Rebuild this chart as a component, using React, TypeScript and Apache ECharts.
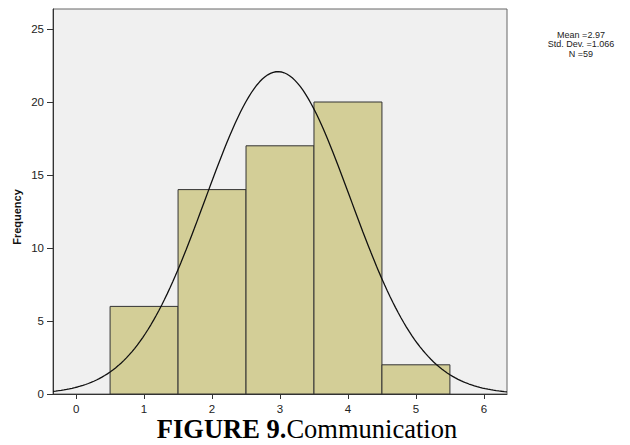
import React, { useEffect, useRef } from "react";
import * as echarts from "echarts";

// Histogram of Communication scores (bin width 1)
const binCenters = [1, 2, 3, 4, 5];
const frequencies = [6, 14, 17, 20, 2];

// Summary statistics reported beside the plot
const statMean = 2.97;
const statStdDev = 1.066;
const statN = 59;

const xTicks = [0, 1, 2, 3, 4, 5, 6];
const yTicks = [0, 5, 10, 15, 20, 25];

const xMin = -0.34;
const xMax = 6.34;
const binWidth = 1;

// Normal curve scaled to counts: N * binWidth * pdf(x)
const curveX: number[] = [];
for (let x = xMin; x <= xMax + 1e-9; x += 0.04) curveX.push(+x.toFixed(3));
const curvePoints = curveX.map((x) => {
  const z = (x - statMean) / statStdDev;
  const y = (statN * binWidth * Math.exp(-0.5 * z * z)) / (statStdDev * Math.sqrt(2 * Math.PI));
  return [x, y];
});

const statLines = [`Mean =${statMean}`, `Std. Dev. =${statStdDev}`, `N =${statN}`];

export default function App() {
  const ref = useRef<HTMLDivElement>(null);

  useEffect(() => {
    if (!ref.current) return;
    const chart = echarts.init(ref.current, null, { renderer: "svg" });
    const sans = "Liberation Sans, Arial, sans-serif";
    const serif = "Liberation Serif, Times New Roman, serif";
    const axisFont = { fontFamily: sans, fontSize: 11.5, color: "#222" };

    chart.setOption({
      animation: false,
      backgroundColor: "#ffffff",
      grid: {
        left: 53,
        right: 123,
        top: 9,
        bottom: 51,
        show: true,
        backgroundColor: "#f0f0f0",
        borderColor: "#666",
        borderWidth: 1,
      },
      xAxis: {
        type: "value",
        min: xMin,
        max: xMax,
        axisLine: { show: true, onZero: false, lineStyle: { color: "#333", width: 1 } },
        axisTick: { show: true, length: 5, customValues: xTicks, lineStyle: { color: "#333" } },
        axisLabel: { ...axisFont, margin: 9, lineHeight: 11, customValues: xTicks },
        splitLine: { show: false },
      },
      yAxis: {
        type: "value",
        min: 0,
        max: 26.37,
        axisLine: { show: true, onZero: false, lineStyle: { color: "#333", width: 1 } },
        axisTick: { show: true, length: 6, customValues: yTicks, lineStyle: { color: "#333" } },
        axisLabel: { ...axisFont, margin: 9, customValues: yTicks },
        splitLine: { show: false },
      },
      series: [
        {
          type: "custom",
          z: 2,
          data: binCenters.map((c, i) => [c, frequencies[i]]),
          renderItem: (params: any, api: any) => {
            const c = api.value(0);
            const f = api.value(1);
            const p0 = api.coord([c - binWidth / 2, f]);
            const p1 = api.coord([c + binWidth / 2, 0]);
            return {
              type: "rect",
              shape: { x: p0[0], y: p0[1], width: p1[0] - p0[0], height: p1[1] - p0[1] },
              style: { fill: "#d3ce97", stroke: "#333", lineWidth: 1 },
            };
          },
        },
        {
          type: "line",
          z: 3,
          data: curvePoints,
          showSymbol: false,
          symbol: "none",
          smooth: false,
          lineStyle: { color: "#111", width: 1.3 },
        },
      ],
      graphic: [
        {
          type: "text",
          x: 17,
          y: 217,
          rotation: Math.PI / 2,
          style: {
            text: "Frequency",
            fontFamily: sans,
            fontSize: 11,
            fontWeight: "bold",
            fill: "#111",
            align: "center",
            verticalAlign: "middle",
          },
        },
        ...statLines.map((t, i) => ({
          type: "text",
          x: 581,
          y: 35 + i * 9.3,
          style: {
            text: t,
            fontFamily: sans,
            fontSize: 9,
            lineHeight: 9,
            fill: "#222",
            align: "center",
            verticalAlign: "middle",
          },
        })),
        {
          type: "text",
          x: 307,
          y: 429,
          style: {
            text: "{b|FIGURE 9.}{r|Communication}",
            align: "center",
            verticalAlign: "middle",
            rich: {
              b: { fontFamily: serif, fontSize: 26.5, lineHeight: 19, fontWeight: "bold", fill: "#000" },
              r: { fontFamily: serif, fontSize: 26.5, lineHeight: 19, fill: "#000" },
            },
          },
        },
      ],
    });

    return () => chart.dispose();
  }, []);

  return (
    <div
      ref={ref}
      style={{ position: "fixed", left: 0, top: 0, width: 630, height: 445 }}
    />
  );
}
